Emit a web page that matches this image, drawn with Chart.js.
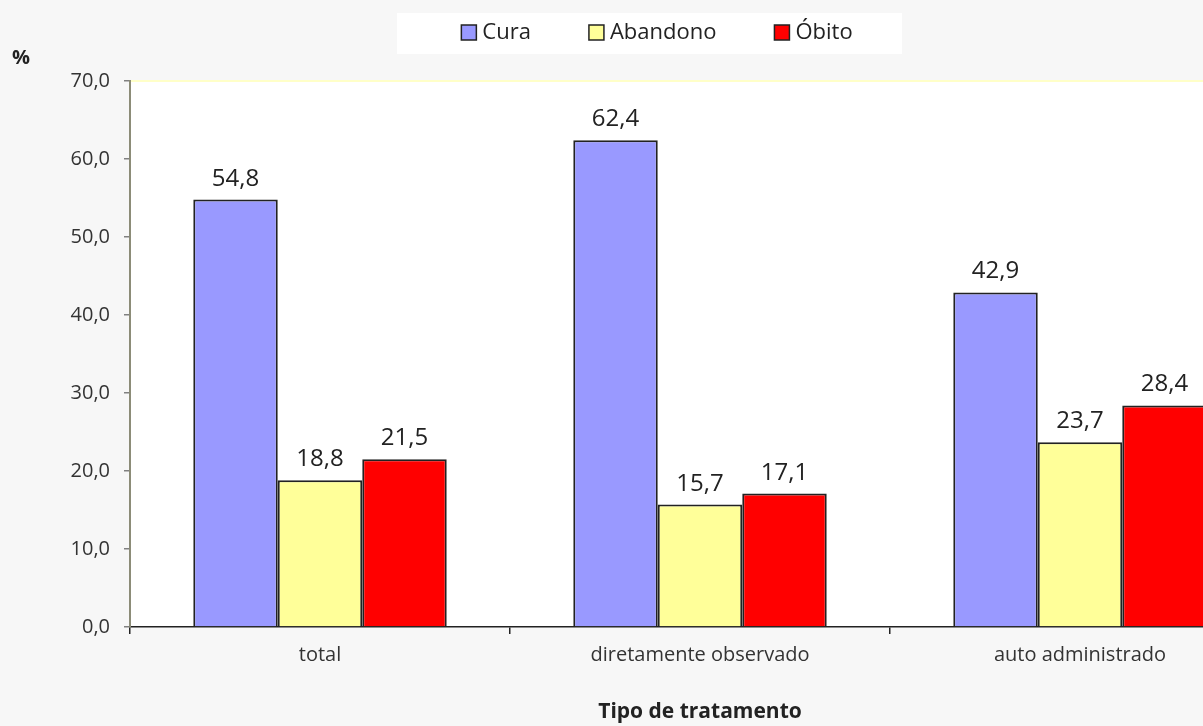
<!DOCTYPE html>
<html>
<head>
<meta charset="utf-8">
<script src="https://cdn.jsdelivr.net/npm/chart.js@4/dist/chart.umd.min.js"></script>
<style>
  html, body { margin: 0; padding: 0; background: #f7f7f7; }
  #wrap { width: 1203px; height: 726px; overflow: hidden; }
</style>
</head>
<body>
<div id="wrap"><canvas id="tratamento" width="1290" height="726"></canvas></div>
<script>
var categories = ["total", "diretamente observado", "auto administrado"];
var seriesNames = ["Cura", "Abandono", "\u00d3bito"];
var cura = [54.8, 62.4, 42.9];
var abandono = [18.8, 15.7, 23.7];
var obito = [21.5, 17.1, 28.4];
var barColors = ["#9999ff", "#ffff99", "#ff0000"];

var FONT = "'Open Sans', 'Noto Sans', sans-serif";

function fmt(v) {
    return v.toFixed(1).replace(".", ",");
}

// plot background, legend, value labels and the "%" unit label
var decorations = {
    id: "decorations",
    beforeDraw: function (chart) {
        var ctx = chart.ctx;
        var a = chart.chartArea;
        ctx.save();
        ctx.fillStyle = "#ffffff";
        ctx.fillRect(a.left, a.top, a.right - a.left, a.bottom - a.top);
        ctx.strokeStyle = "#ffffc8";
        ctx.lineWidth = 2;
        ctx.beginPath();
        ctx.moveTo(a.left, a.top);
        ctx.lineTo(a.right, a.top);
        ctx.stroke();

        // legend
        ctx.fillStyle = "#ffffff";
        ctx.fillRect(397, 13, 505, 41);
        ctx.font = "22px " + FONT;
        ctx.textBaseline = "middle";
        var box = 15, gap = 6, spacing = 58;
        var widths = chart.data.datasets.map(function (ds) {
            return box + gap + ctx.measureText(ds.label).width;
        });
        var total = widths.reduce(function (s, w) { return s + w; }, 0) + spacing * (widths.length - 1);
        var x = 657 - total / 2;
        chart.data.datasets.forEach(function (ds, i) {
            ctx.fillStyle = ds.backgroundColor;
            ctx.fillRect(x, 25, box, box);
            ctx.strokeStyle = "#222222";
            ctx.lineWidth = 1.5;
            ctx.strokeRect(x, 25, box, box);
            ctx.fillStyle = "#222222";
            ctx.fillText(ds.label, x + box + gap, 33);
            x += widths[i] + spacing;
        });

        ctx.font = "bold 20px " + FONT;
        ctx.textAlign = "left";
        ctx.fillText("%", 12, 58);
        ctx.restore();
    },
    afterDatasetsDraw: function (chart) {
        var ctx = chart.ctx;
        ctx.save();
        ctx.font = "24px " + FONT;
        ctx.fillStyle = "#222222";
        ctx.textAlign = "center";
        ctx.textBaseline = "alphabetic";
        chart.data.datasets.forEach(function (ds, i) {
            chart.getDatasetMeta(i).data.forEach(function (bar, j) {
                ctx.fillText(fmt(ds.data[j]), bar.x, bar.y - 14);
            });
        });
        ctx.restore();
    }
};

new Chart("tratamento", {
    type: "bar",
    data: {
        labels: categories,
        datasets: [
            { label: seriesNames[0], data: cura, backgroundColor: barColors[0] },
            { label: seriesNames[1], data: abandono, backgroundColor: barColors[1] },
            { label: seriesNames[2], data: obito, backgroundColor: barColors[2] }
        ]
    },
    options: {
        responsive: false,
        maintainAspectRatio: false,
        animation: false,
        layout: { padding: { left: 44, right: 20, top: 81, bottom: 0 } },
        datasets: {
            bar: {
                categoryPercentage: 0.667,
                barPercentage: 1.0,
                borderColor: "#222222",
                borderWidth: 2
            }
        },
        plugins: {
            legend: { display: false },
            tooltip: { enabled: false }
        },
        scales: {
            x: {
                grid: {
                    drawOnChartArea: false,
                    offset: true,
                    tickLength: 7,
                    color: "#222222",
                    lineWidth: 1.5
                },
                border: { color: "#222222", width: 1.5 },
                ticks: {
                    font: { family: FONT, size: 20 },
                    color: "#333333",
                    padding: 9,
                    maxRotation: 0
                },
                title: {
                    display: true,
                    text: "Tipo de tratamento",
                    font: { family: FONT, size: 21, weight: "bold" },
                    color: "#222222",
                    padding: { top: 4, bottom: 1 }
                },
                afterFit: function (scale) { scale.height = 99; }
            },
            y: {
                min: 0,
                max: 70,
                ticks: {
                    stepSize: 10,
                    font: { family: FONT, size: 20 },
                    color: "#333333",
                    padding: 14,
                    callback: function (v) { return fmt(v); }
                },
                grid: {
                    drawOnChartArea: false,
                    tickLength: 6,
                    color: "#808080",
                    lineWidth: 1.5
                },
                border: { color: "#8c8c78", width: 2 },
                afterFit: function (scale) { scale.width = 86; }
            }
        }
    },
    plugins: [decorations]
});
</script>
</body>
</html>
